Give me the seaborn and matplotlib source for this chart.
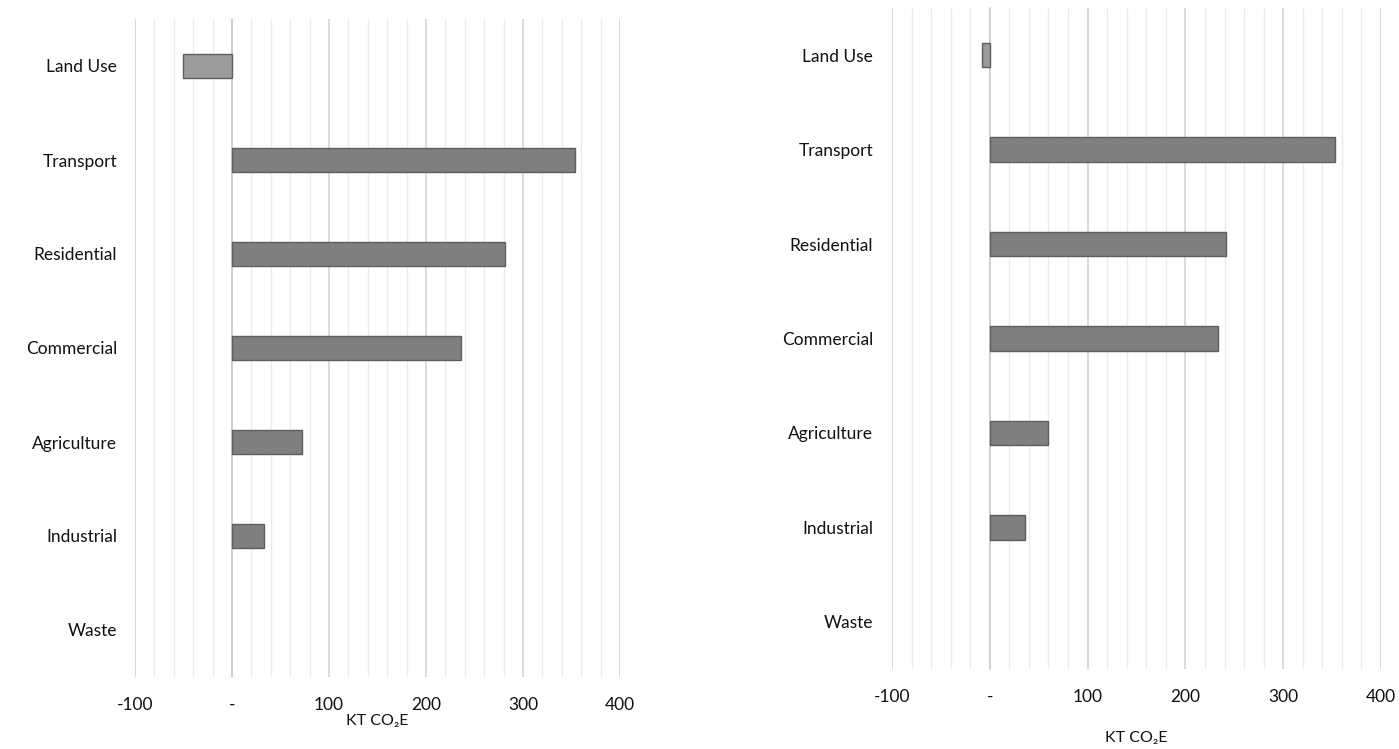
import matplotlib
matplotlib.use("Agg")
import matplotlib.pyplot as plt
import seaborn as sns
import pandas as pd
from matplotlib.ticker import MultipleLocator, FixedLocator, FixedFormatter

sectors = ["Land Use", "Transport", "Residential", "Commercial",
           "Agriculture", "Industrial", "Waste"]
left_vals = [-51, 354, 281, 236, 72, 33, 0]
right_vals = [-8, 353, 242, 233, 60, 36, 0]
x_ticks = [-100, 0, 100, 200, 300, 400]
x_tick_labels = ["-100", "-", "100", "200", "300", "400"]
x_title = "KT CO\u2082E"

bar_colors = ["#9b9b9b"] + ["#7f7f7f"] * 6

sns.set_theme(style="white")
plt.rcParams["font.family"] = ["Lato", "DejaVu Sans"]

W, H = 1399, 749
fig = plt.figure(figsize=(W / 100, H / 100), dpi=100)


def panel(rect, vals, label_right_px, tick_y_px, title_y_px):
    l, t, r, b = rect
    ax = fig.add_axes([l / W, 1 - b / H, (r - l) / W, (b - t) / H])
    df = pd.DataFrame({"sector": sectors, "value": vals})
    sns.barplot(data=df, y="sector", x="value", hue="sector",
                palette=bar_colors, legend=False, orient="h",
                width=0.26, edgecolor="#5e5e5e", linewidth=1.0,
                ax=ax, zorder=3)
    # a zero-length bar should not leave an outline behind
    for p in ax.patches:
        if abs(p.get_width()) < 1e-9:
            p.set_linewidth(0)
    ax.set_xlim(-100, 400)
    ax.set_ylim(6.5, -0.5)

    # gridlines: minor every 20, major every 100
    ax.xaxis.set_minor_locator(MultipleLocator(20))
    ax.grid(which="minor", axis="x", color="#ebebeb", linewidth=1.0, zorder=0)
    ax.grid(which="major", axis="x", color="#d4d4d4", linewidth=1.2, zorder=0)
    ax.grid(axis="y", visible=False)
    ax.set_axisbelow(True)

    for s in ["top", "right", "bottom"]:
        ax.spines[s].set_visible(False)
    ax.spines["left"].set_position(("data", 0))
    ax.spines["left"].set_color("#cccccc")
    ax.spines["left"].set_linewidth(1.1)
    ax.spines["left"].set_zorder(2)

    # y ticks: category labels far left, small ticks at boundaries
    ax.yaxis.set_major_locator(FixedLocator(range(len(sectors))))
    ax.yaxis.set_major_formatter(FixedFormatter(sectors))
    ax.yaxis.set_minor_locator(FixedLocator([i + 0.5 for i in range(-1, 7)]))
    spine_px = l + (r - l) * (0 - (-100)) / 500
    pad_pt = (spine_px - label_right_px) * 72 / 100
    ax.tick_params(axis="y", which="major", length=0, pad=pad_pt,
                   labelsize=12.5, labelcolor="#111111")
    ax.tick_params(axis="y", which="minor", length=5, width=1.0,
                   color="#c4c4c4", direction="out")

    ax.set_xticks(x_ticks)
    ax.set_xticklabels(x_tick_labels)
    x_pad_pt = (tick_y_px - b - 8) * 72 / 100
    ax.tick_params(axis="x", which="both", length=0, pad=x_pad_pt,
                   labelsize=12.5, labelcolor="#111111")
    ax.set_ylabel("")
    ax.set_xlabel(x_title, fontsize=11.5, color="#111111",
                  labelpad=(title_y_px - tick_y_px - 17) * 72 / 100)
    return ax


panel((135, 19, 620, 677), left_vals, 117, 705, 723)
panel((892, 8, 1381, 669), right_vals, 873, 697, 740)

fig.savefig("out.png", dpi=100, facecolor="white")
